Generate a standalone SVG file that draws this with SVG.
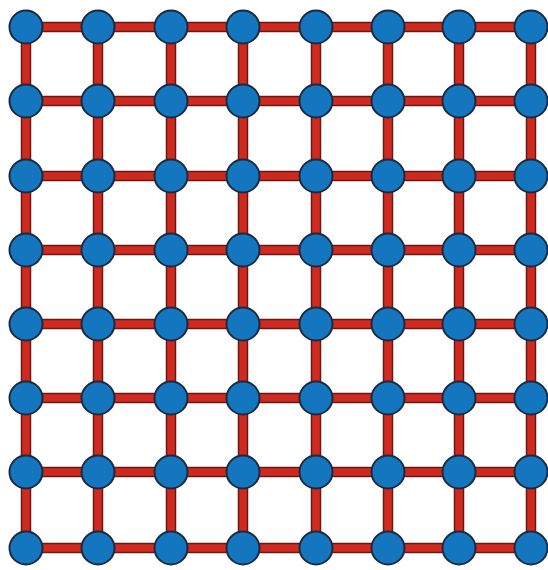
<svg xmlns="http://www.w3.org/2000/svg" width="548" height="570" viewBox="0 0 548 570">
<style>
.e{fill:#cf2a20;stroke:#6a1812;stroke-width:1.5}
.n{fill:#1576c0;stroke:#1a2b40;stroke-width:2}
</style>
<rect width="548" height="570" fill="#ffffff"/>
<g id="connectors">
<g id="h-row1"><rect class="e" x="26" y="22.5" width="72" height="9"/><rect class="e" x="98" y="22.5" width="73" height="9"/><rect class="e" x="171" y="22.5" width="72" height="9"/><rect class="e" x="243" y="22.5" width="73" height="9"/><rect class="e" x="316" y="22.5" width="72" height="9"/><rect class="e" x="388" y="22.5" width="71" height="9"/><rect class="e" x="459" y="22.5" width="72" height="9"/></g>
<g id="h-row2"><rect class="e" x="26" y="96.5" width="72" height="9"/><rect class="e" x="98" y="96.5" width="73" height="9"/><rect class="e" x="171" y="96.5" width="72" height="9"/><rect class="e" x="243" y="96.5" width="73" height="9"/><rect class="e" x="316" y="96.5" width="72" height="9"/><rect class="e" x="388" y="96.5" width="71" height="9"/><rect class="e" x="459" y="96.5" width="72" height="9"/></g>
<g id="h-row3"><rect class="e" x="26" y="171.5" width="72" height="9"/><rect class="e" x="98" y="171.5" width="73" height="9"/><rect class="e" x="171" y="171.5" width="72" height="9"/><rect class="e" x="243" y="171.5" width="73" height="9"/><rect class="e" x="316" y="171.5" width="72" height="9"/><rect class="e" x="388" y="171.5" width="71" height="9"/><rect class="e" x="459" y="171.5" width="72" height="9"/></g>
<g id="h-row4"><rect class="e" x="26" y="245.5" width="72" height="9"/><rect class="e" x="98" y="245.5" width="73" height="9"/><rect class="e" x="171" y="245.5" width="72" height="9"/><rect class="e" x="243" y="245.5" width="73" height="9"/><rect class="e" x="316" y="245.5" width="72" height="9"/><rect class="e" x="388" y="245.5" width="71" height="9"/><rect class="e" x="459" y="245.5" width="72" height="9"/></g>
<g id="h-row5"><rect class="e" x="26" y="319.5" width="72" height="9"/><rect class="e" x="98" y="319.5" width="73" height="9"/><rect class="e" x="171" y="319.5" width="72" height="9"/><rect class="e" x="243" y="319.5" width="73" height="9"/><rect class="e" x="316" y="319.5" width="72" height="9"/><rect class="e" x="388" y="319.5" width="71" height="9"/><rect class="e" x="459" y="319.5" width="72" height="9"/></g>
<g id="h-row6"><rect class="e" x="26" y="393.5" width="72" height="9"/><rect class="e" x="98" y="393.5" width="73" height="9"/><rect class="e" x="171" y="393.5" width="72" height="9"/><rect class="e" x="243" y="393.5" width="73" height="9"/><rect class="e" x="316" y="393.5" width="72" height="9"/><rect class="e" x="388" y="393.5" width="71" height="9"/><rect class="e" x="459" y="393.5" width="72" height="9"/></g>
<g id="h-row7"><rect class="e" x="26" y="467.5" width="72" height="9"/><rect class="e" x="98" y="467.5" width="73" height="9"/><rect class="e" x="171" y="467.5" width="72" height="9"/><rect class="e" x="243" y="467.5" width="73" height="9"/><rect class="e" x="316" y="467.5" width="72" height="9"/><rect class="e" x="388" y="467.5" width="71" height="9"/><rect class="e" x="459" y="467.5" width="72" height="9"/></g>
<g id="h-row8"><rect class="e" x="26" y="543.5" width="72" height="9"/><rect class="e" x="98" y="543.5" width="73" height="9"/><rect class="e" x="171" y="543.5" width="72" height="9"/><rect class="e" x="243" y="543.5" width="73" height="9"/><rect class="e" x="316" y="543.5" width="72" height="9"/><rect class="e" x="388" y="543.5" width="71" height="9"/><rect class="e" x="459" y="543.5" width="72" height="9"/></g>
<g id="v-col1"><rect class="e" x="21.5" y="27" width="9" height="74"/><rect class="e" x="21.5" y="101" width="9" height="75"/><rect class="e" x="21.5" y="176" width="9" height="74"/><rect class="e" x="21.5" y="250" width="9" height="74"/><rect class="e" x="21.5" y="324" width="9" height="74"/><rect class="e" x="21.5" y="398" width="9" height="74"/><rect class="e" x="21.5" y="472" width="9" height="76"/></g>
<g id="v-col2"><rect class="e" x="93.5" y="27" width="9" height="74"/><rect class="e" x="93.5" y="101" width="9" height="75"/><rect class="e" x="93.5" y="176" width="9" height="74"/><rect class="e" x="93.5" y="250" width="9" height="74"/><rect class="e" x="93.5" y="324" width="9" height="74"/><rect class="e" x="93.5" y="398" width="9" height="74"/><rect class="e" x="93.5" y="472" width="9" height="76"/></g>
<g id="v-col3"><rect class="e" x="166.5" y="27" width="9" height="74"/><rect class="e" x="166.5" y="101" width="9" height="75"/><rect class="e" x="166.5" y="176" width="9" height="74"/><rect class="e" x="166.5" y="250" width="9" height="74"/><rect class="e" x="166.5" y="324" width="9" height="74"/><rect class="e" x="166.5" y="398" width="9" height="74"/><rect class="e" x="166.5" y="472" width="9" height="76"/></g>
<g id="v-col4"><rect class="e" x="238.5" y="27" width="9" height="74"/><rect class="e" x="238.5" y="101" width="9" height="75"/><rect class="e" x="238.5" y="176" width="9" height="74"/><rect class="e" x="238.5" y="250" width="9" height="74"/><rect class="e" x="238.5" y="324" width="9" height="74"/><rect class="e" x="238.5" y="398" width="9" height="74"/><rect class="e" x="238.5" y="472" width="9" height="76"/></g>
<g id="v-col5"><rect class="e" x="311.5" y="27" width="9" height="74"/><rect class="e" x="311.5" y="101" width="9" height="75"/><rect class="e" x="311.5" y="176" width="9" height="74"/><rect class="e" x="311.5" y="250" width="9" height="74"/><rect class="e" x="311.5" y="324" width="9" height="74"/><rect class="e" x="311.5" y="398" width="9" height="74"/><rect class="e" x="311.5" y="472" width="9" height="76"/></g>
<g id="v-col6"><rect class="e" x="383.5" y="27" width="9" height="74"/><rect class="e" x="383.5" y="101" width="9" height="75"/><rect class="e" x="383.5" y="176" width="9" height="74"/><rect class="e" x="383.5" y="250" width="9" height="74"/><rect class="e" x="383.5" y="324" width="9" height="74"/><rect class="e" x="383.5" y="398" width="9" height="74"/><rect class="e" x="383.5" y="472" width="9" height="76"/></g>
<g id="v-col7"><rect class="e" x="454.5" y="27" width="9" height="74"/><rect class="e" x="454.5" y="101" width="9" height="75"/><rect class="e" x="454.5" y="176" width="9" height="74"/><rect class="e" x="454.5" y="250" width="9" height="74"/><rect class="e" x="454.5" y="324" width="9" height="74"/><rect class="e" x="454.5" y="398" width="9" height="74"/><rect class="e" x="454.5" y="472" width="9" height="76"/></g>
<g id="v-col8"><rect class="e" x="526.5" y="27" width="9" height="74"/><rect class="e" x="526.5" y="101" width="9" height="75"/><rect class="e" x="526.5" y="176" width="9" height="74"/><rect class="e" x="526.5" y="250" width="9" height="74"/><rect class="e" x="526.5" y="324" width="9" height="74"/><rect class="e" x="526.5" y="398" width="9" height="74"/><rect class="e" x="526.5" y="472" width="9" height="76"/></g>
</g>
<g id="nodes">
<g id="n1-1"><circle class="n" cx="26" cy="27" r="16.5"/></g><g id="n1-2"><circle class="n" cx="98" cy="27" r="16.5"/></g><g id="n1-3"><circle class="n" cx="171" cy="27" r="16.5"/></g><g id="n1-4"><circle class="n" cx="243" cy="27" r="16.5"/></g><g id="n1-5"><circle class="n" cx="316" cy="27" r="16.5"/></g><g id="n1-6"><circle class="n" cx="388" cy="27" r="16.5"/></g><g id="n1-7"><circle class="n" cx="459" cy="27" r="16.5"/></g><g id="n1-8"><circle class="n" cx="531" cy="27" r="16.5"/></g>
<g id="n2-1"><circle class="n" cx="26" cy="101" r="16.5"/></g><g id="n2-2"><circle class="n" cx="98" cy="101" r="16.5"/></g><g id="n2-3"><circle class="n" cx="171" cy="101" r="16.5"/></g><g id="n2-4"><circle class="n" cx="243" cy="101" r="16.5"/></g><g id="n2-5"><circle class="n" cx="316" cy="101" r="16.5"/></g><g id="n2-6"><circle class="n" cx="388" cy="101" r="16.5"/></g><g id="n2-7"><circle class="n" cx="459" cy="101" r="16.5"/></g><g id="n2-8"><circle class="n" cx="531" cy="101" r="16.5"/></g>
<g id="n3-1"><circle class="n" cx="26" cy="176" r="16.5"/></g><g id="n3-2"><circle class="n" cx="98" cy="176" r="16.5"/></g><g id="n3-3"><circle class="n" cx="171" cy="176" r="16.5"/></g><g id="n3-4"><circle class="n" cx="243" cy="176" r="16.5"/></g><g id="n3-5"><circle class="n" cx="316" cy="176" r="16.5"/></g><g id="n3-6"><circle class="n" cx="388" cy="176" r="16.5"/></g><g id="n3-7"><circle class="n" cx="459" cy="176" r="16.5"/></g><g id="n3-8"><circle class="n" cx="531" cy="176" r="16.5"/></g>
<g id="n4-1"><circle class="n" cx="26" cy="250" r="16.5"/></g><g id="n4-2"><circle class="n" cx="98" cy="250" r="16.5"/></g><g id="n4-3"><circle class="n" cx="171" cy="250" r="16.5"/></g><g id="n4-4"><circle class="n" cx="243" cy="250" r="16.5"/></g><g id="n4-5"><circle class="n" cx="316" cy="250" r="16.5"/></g><g id="n4-6"><circle class="n" cx="388" cy="250" r="16.5"/></g><g id="n4-7"><circle class="n" cx="459" cy="250" r="16.5"/></g><g id="n4-8"><circle class="n" cx="531" cy="250" r="16.5"/></g>
<g id="n5-1"><circle class="n" cx="26" cy="324" r="16.5"/></g><g id="n5-2"><circle class="n" cx="98" cy="324" r="16.5"/></g><g id="n5-3"><circle class="n" cx="171" cy="324" r="16.5"/></g><g id="n5-4"><circle class="n" cx="243" cy="324" r="16.5"/></g><g id="n5-5"><circle class="n" cx="316" cy="324" r="16.5"/></g><g id="n5-6"><circle class="n" cx="388" cy="324" r="16.5"/></g><g id="n5-7"><circle class="n" cx="459" cy="324" r="16.5"/></g><g id="n5-8"><circle class="n" cx="531" cy="324" r="16.5"/></g>
<g id="n6-1"><circle class="n" cx="26" cy="398" r="16.5"/></g><g id="n6-2"><circle class="n" cx="98" cy="398" r="16.5"/></g><g id="n6-3"><circle class="n" cx="171" cy="398" r="16.5"/></g><g id="n6-4"><circle class="n" cx="243" cy="398" r="16.5"/></g><g id="n6-5"><circle class="n" cx="316" cy="398" r="16.5"/></g><g id="n6-6"><circle class="n" cx="388" cy="398" r="16.5"/></g><g id="n6-7"><circle class="n" cx="459" cy="398" r="16.5"/></g><g id="n6-8"><circle class="n" cx="531" cy="398" r="16.5"/></g>
<g id="n7-1"><circle class="n" cx="26" cy="472" r="16.5"/></g><g id="n7-2"><circle class="n" cx="98" cy="472" r="16.5"/></g><g id="n7-3"><circle class="n" cx="171" cy="472" r="16.5"/></g><g id="n7-4"><circle class="n" cx="243" cy="472" r="16.5"/></g><g id="n7-5"><circle class="n" cx="316" cy="472" r="16.5"/></g><g id="n7-6"><circle class="n" cx="388" cy="472" r="16.5"/></g><g id="n7-7"><circle class="n" cx="459" cy="472" r="16.5"/></g><g id="n7-8"><circle class="n" cx="531" cy="472" r="16.5"/></g>
<g id="n8-1"><circle class="n" cx="26" cy="548" r="16.5"/></g><g id="n8-2"><circle class="n" cx="98" cy="548" r="16.5"/></g><g id="n8-3"><circle class="n" cx="171" cy="548" r="16.5"/></g><g id="n8-4"><circle class="n" cx="243" cy="548" r="16.5"/></g><g id="n8-5"><circle class="n" cx="316" cy="548" r="16.5"/></g><g id="n8-6"><circle class="n" cx="388" cy="548" r="16.5"/></g><g id="n8-7"><circle class="n" cx="459" cy="548" r="16.5"/></g><g id="n8-8"><circle class="n" cx="531" cy="548" r="16.5"/></g>
</g>
</svg>
